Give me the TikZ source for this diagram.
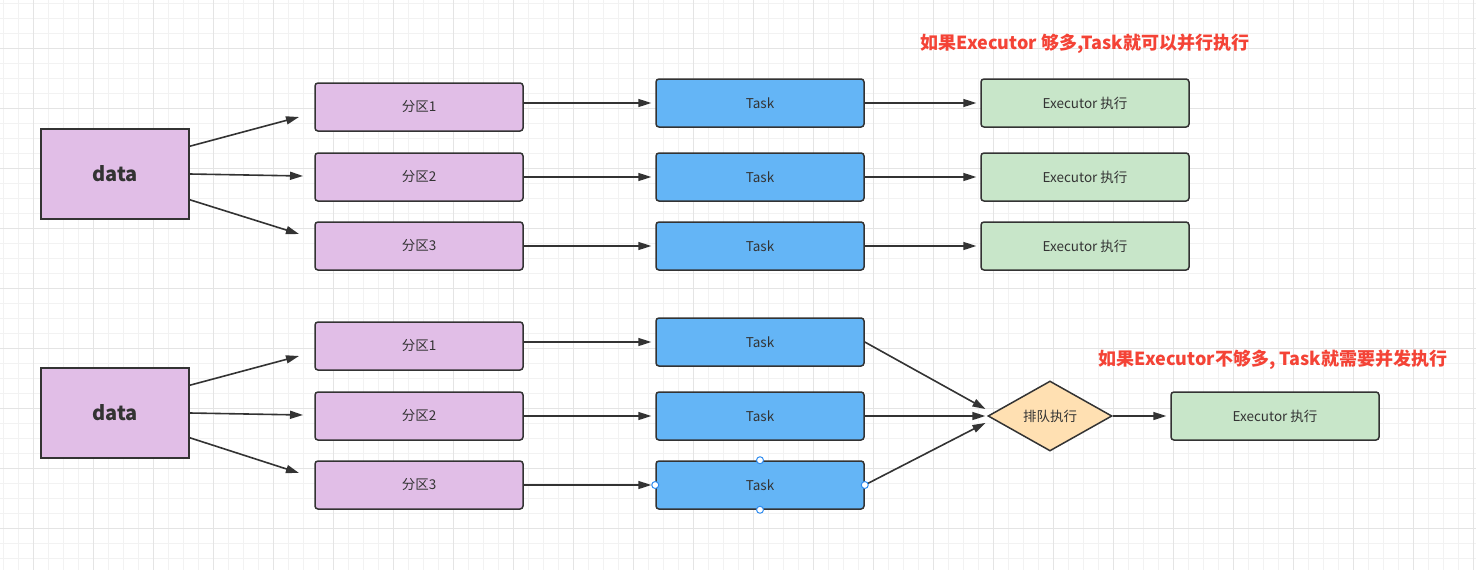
\documentclass[tikz,border=0pt]{standalone}
\usepackage{fontspec}
\setmainfont{Noto Sans CJK SC}
\usetikzlibrary{arrows.meta,shapes.geometric}
\definecolor{line}{HTML}{333333}
\definecolor{txt}{HTML}{333333}
\definecolor{purp}{HTML}{E1BEE7}
\definecolor{blu}{HTML}{64B5F6}
\definecolor{grn}{HTML}{C8E6C9}
\definecolor{org}{HTML}{FFE0B2}
\definecolor{redt}{HTML}{F44336}
\definecolor{gminor}{HTML}{F2F2F2}
\definecolor{gmajor}{HTML}{E4E4E4}
\definecolor{hblue}{HTML}{2F8CF0}
\tikzset{
  box/.style={draw=line, line width=1.5pt, rounded corners=3pt, minimum width=208pt,
    minimum height=48pt, inner sep=0pt, text=txt, font=\fontsize{13.5}{15}\selectfont},
  part/.style={box, fill=purp},
  task/.style={box, fill=blu},
  exec/.style={box, fill=grn},
  databox/.style={draw=line, line width=1.5pt, fill=purp, minimum width=148pt, minimum height=90pt,
    inner sep=0pt, text=txt, font=\fontsize{20}{24}\selectfont\bfseries},
  queue/.style={diamond, draw=line, line width=1.5pt, fill=org, minimum width=124pt,
    minimum height=70pt, inner sep=0pt, text=txt, font=\fontsize{13.5}{15}\selectfont},
  arr/.style={draw=line, line width=1.6pt, -{Triangle[length=13pt,width=8pt]}},
  note/.style={text=redt, font=\fontsize{18}{21}\selectfont\bfseries, inner sep=0pt},
  handle/.style={circle, draw=hblue, fill=white, line width=1pt, minimum size=7pt, inner sep=0pt},
}
\begin{document}
\begin{tikzpicture}[x=1pt,y=-1pt]
\useasboundingbox (0,0) rectangle (1476,570);
\fill[white] (0,0) rectangle (1476,570);
% grid
\foreach \i in {0,...,98} {\draw[gminor, line width=1pt] ({3+15*\i},0) -- ({3+15*\i},570);}
\foreach \j in {0,...,37} {\draw[gminor, line width=1pt] (0,{3+15*\j}) -- (1476,{3+15*\j});}
\foreach \i in {0,...,24} {\draw[gmajor, line width=1pt] ({33+60*\i},0) -- ({33+60*\i},570);}
\foreach \j in {0,...,8} {\draw[gmajor, line width=1pt] (0,{48+60*\j}) -- (1476,{48+60*\j});}

% notes
\node[note] (n1) at (1085,44) {如果Executor 够多,Task就可以并行执行};
\node[note] (n2) at (1273,360) {如果Executor不够多, Task就需要并发执行};

% top group
\node[databox] (d1) at (115,174) {data};
\node[part] (p1) at (419,107) {分区1};
\node[part] (p2) at (419,177) {分区2};
\node[part] (p3) at (419,246) {分区3};
\node[task] (t1) at (760,103) {Task};
\node[task] (t2) at (760,177) {Task};
\node[task] (t3) at (760,246) {Task};
\node[exec] (e1) at (1085,103) {Executor 执行};
\node[exec] (e2) at (1085,177) {Executor 执行};
\node[exec] (e3) at (1085,246) {Executor 执行};
\coordinate (a1) at (299,117);
\coordinate (a2) at (303,176);
\coordinate (a3) at (299,234);
\draw[arr] ([yshift=-18pt]d1.north east) -- (a1);
\draw[arr] (d1.east) -- (a2);
\draw[arr] ([yshift=20pt]d1.south east) -- (a3);
\draw[arr, shorten >=4pt] (p1.east |- t1.west) -- (t1.west);
\draw[arr, shorten >=4pt] (p2.east) -- (t2.west);
\draw[arr, shorten >=4pt] (p3.east) -- (t3.west);
\draw[arr, shorten >=4pt] (t1.east) -- (e1.west);
\draw[arr, shorten >=4pt] (t2.east) -- (e2.west);
\draw[arr, shorten >=4pt] (t3.east) -- (e3.west);

% bottom group
\node[databox] (d2) at (115,413) {data};
\node[part] (p4) at (419,346) {分区1};
\node[part] (p5) at (419,416) {分区2};
\node[part] (p6) at (419,485) {分区3};
\node[task] (t4) at (760,342) {Task};
\node[task] (t5) at (760,416) {Task};
\node[task] (t6) at (760,485) {Task};
\node[queue] (q) at (1050,416) {排队执行};
\node[exec] (e4) at (1275,416) {Executor 执行};
\coordinate (b1) at (299,356);
\coordinate (b2) at (303,415);
\coordinate (b3) at (299,473);
\draw[arr] ([yshift=-18pt]d2.north east) -- (b1);
\draw[arr] (d2.east) -- (b2);
\draw[arr] ([yshift=21pt]d2.south east) -- (b3);
\draw[arr, shorten >=4pt] (p4.east |- t4.west) -- (t4.west);
\draw[arr, shorten >=4pt] (p5.east) -- (t5.west);
\draw[arr, shorten >=4pt] (p6.east) -- (t6.west);
\draw[arr, shorten >=2pt] (t4.east) -- ([yshift=6pt]q.west);
\draw[arr, shorten >=2pt] (t5.east) -- (q.west);
\draw[arr, shorten >=2pt] (t6.east) -- ([yshift=-6pt]q.west);
\draw[arr, shorten >=4pt] (q.east) -- (e4.west);

% selection handles
\node[handle] (h1) at (t6.north) {};
\node[handle] (h2) at (t6.south) {};
\node[handle] (h3) at (t6.west) {};
\node[handle] (h4) at (t6.east) {};
\end{tikzpicture}
\end{document}
